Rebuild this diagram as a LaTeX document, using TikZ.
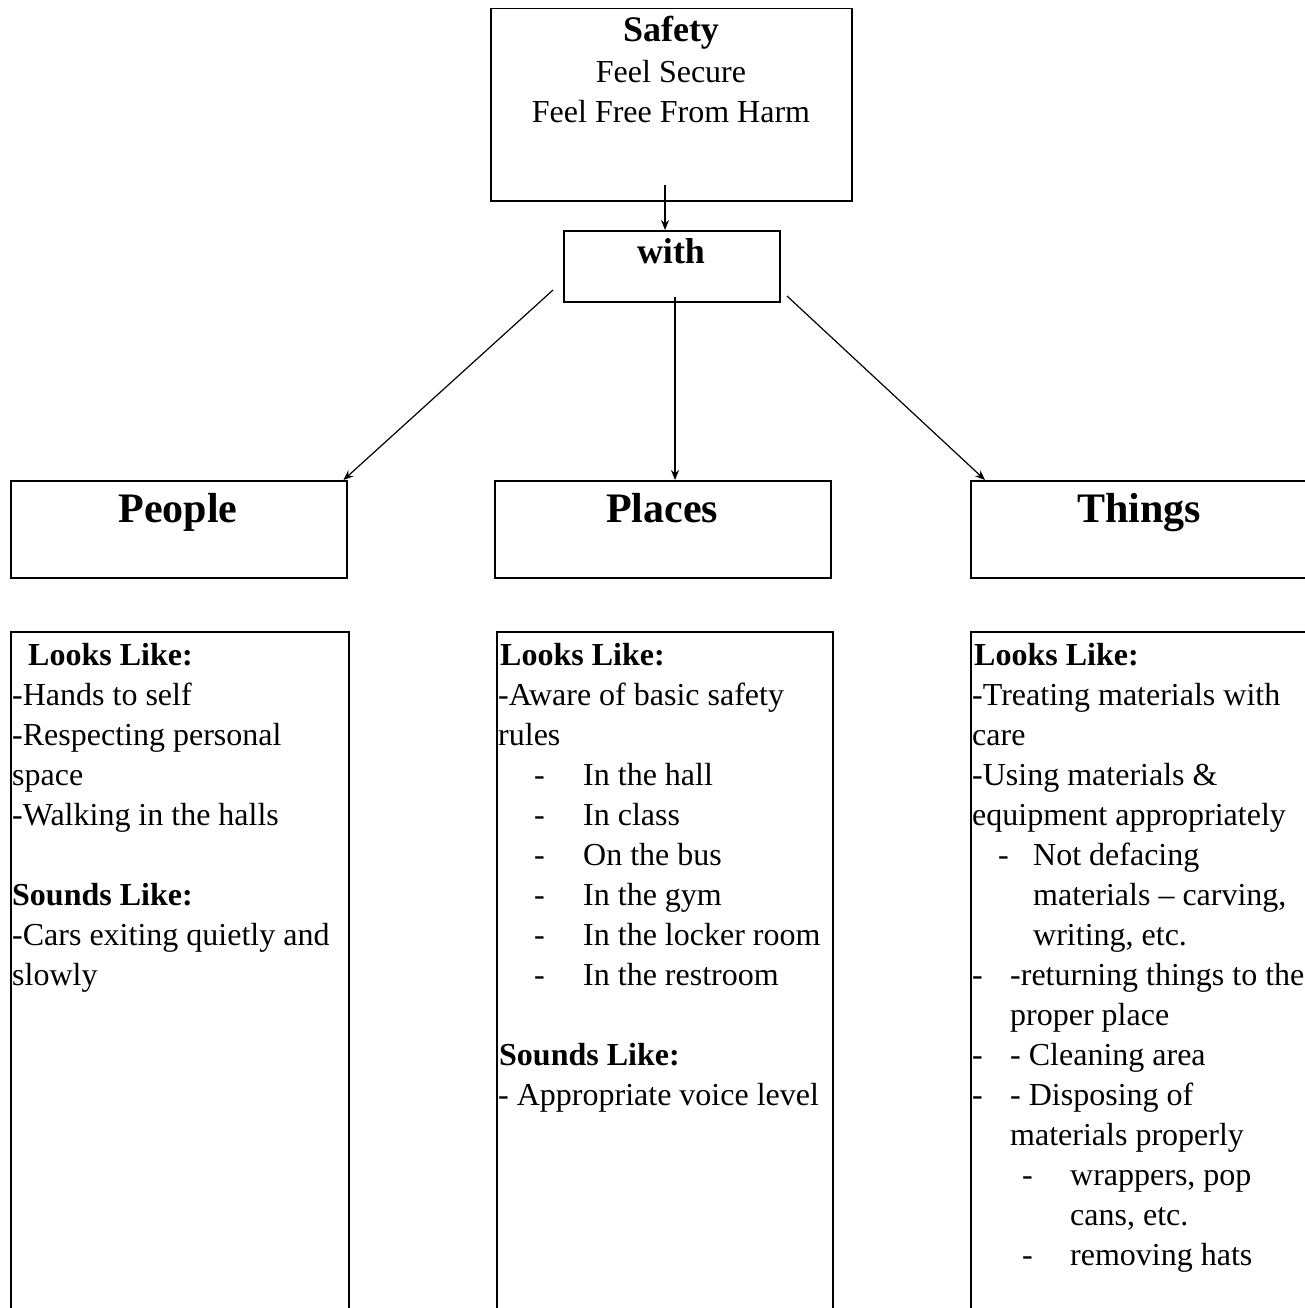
\documentclass[tikz,border=0pt]{standalone}
\usepackage{fontspec}
\setmainfont{Liberation Serif}
\usetikzlibrary{arrows.meta}
\begin{document}
\begin{tikzpicture}[x=1pt,y=-1pt,
 box/.style={draw, line width=1.5pt, inner sep=0pt, anchor=north west},
 arr/.style={line width=1.2pt, -{Stealth[length=10pt,width=8pt]}},
 txt/.style={anchor=base west, inner sep=0pt, font=\fontsize{32}{38}\selectfont},
 btxt/.style={anchor=base west, inner sep=0pt, font=\fontsize{32}{38}\selectfont\bfseries},
 ctr/.style={anchor=base, inner sep=0pt, font=\fontsize{32}{38}\selectfont},
 bctr/.style={anchor=base, inner sep=0pt, font=\fontsize{36}{40}\selectfont\bfseries},
 hdr/.style={anchor=base, inner sep=0pt, font=\fontsize{42}{48}\selectfont\bfseries}]
\useasboundingbox (0,0) rectangle (1305,1308);
\clip (0,0) rectangle (1305,1308);

% boxes
\node[box, minimum width=361pt, minimum height=192pt] (safety) at (490,8) {};
\node[box, minimum width=216pt, minimum height=71pt] (with) at (563,230) {};
\node[box, minimum width=336pt, minimum height=97pt] (people) at (10,480) {};
\node[box, minimum width=336pt, minimum height=97pt] (places) at (494,480) {};
\node[box, minimum width=380pt, minimum height=97pt] (things) at (970,480) {};
\node[box, minimum width=338pt, minimum height=720pt] (pbox) at (10,631) {};
\node[box, minimum width=336pt, minimum height=720pt] (plbox) at (496,631) {};
\node[box, minimum width=380pt, minimum height=720pt] (tbox) at (970,631) {};

% top texts
\node[bctr] (tsafety) at (671,42) {Safety};
\node[ctr] (tsecure) at (671,83) {Feel Secure};
\node[ctr] (tfree) at (671,123) {Feel Free From Harm};
\node[bctr] (twith) at (671,263) {with};
\node[hdr] (tpeople) at (178,522) {People};
\node[hdr] (tplaces) at (662,522) {Places};
\node[hdr] (tthings) at (1139,522) {Things};

% connectors
\coordinate (s0) at (665,185);
\draw[arr] (s0) -- (s0 |- with.north);
\coordinate (w0) at (675,297);
\draw[arr] (w0) -- (w0 |- places.north);
\coordinate (wl) at (553,290);
\draw[arr] (wl) -- ([xshift=-4pt]people.north east);
\coordinate (wr) at (787,296);
\draw[arr] (wr) -- ([xshift=15pt]things.north west);

% People list
\node[btxt] (p1) at (28,665) {Looks Like:};
\node[txt] (p2) at (12,705) {-Hands to self};
\node[txt] (p3) at (12,745) {-Respecting personal};
\node[txt] (p4) at (12,785) {space};
\node[txt] (p5) at (12,825) {-Walking in the halls};
\node[btxt] (p6) at (12,905) {Sounds Like:};
\node[txt] (p7) at (12,945) {-Cars exiting quietly and};
\node[txt] (p8) at (12,985) {slowly};

% Places list
\node[btxt] (l1) at (500,665) {Looks Like:};
\node[txt] (l2) at (498,705) {-Aware of basic safety};
\node[txt] (l3) at (498,745) {rules};
\node[txt] (l4d) at (534,785) {-};
\node[txt] (l4) at (583,785) {In the hall};
\node[txt] (l5d) at (534,825) {-};
\node[txt] (l5) at (583,825) {In class};
\node[txt] (l6d) at (534,865) {-};
\node[txt] (l6) at (583,865) {On the bus};
\node[txt] (l7d) at (534,905) {-};
\node[txt] (l7) at (583,905) {In the gym};
\node[txt] (l8d) at (534,945) {-};
\node[txt] (l8) at (583,945) {In the locker room};
\node[txt] (l9d) at (534,985) {-};
\node[txt] (l9) at (583,985) {In the restroom};
\node[btxt] (l10) at (499,1065) {Sounds Like:};
\node[txt] (l11) at (498,1105) {- Appropriate voice level};

% Things list
\node[btxt] (t1) at (974,665) {Looks Like:};
\node[txt] (t2) at (972,705) {-Treating materials with};
\node[txt] (t3) at (972,745) {care};
\node[txt] (t4) at (972,785) {-Using materials \&};
\node[txt] (t5) at (972,825) {equipment appropriately};
\node[txt] (t6d) at (998,865) {-};
\node[txt] (t6) at (1033,865) {Not defacing};
\node[txt] (t7) at (1033,905) {materials – carving,};
\node[txt] (t8) at (1033,945) {writing, etc.};
\node[txt] (t9d) at (972,985) {-};
\node[txt] (t9) at (1010,985) {-returning things to the};
\node[txt] (t10) at (1010,1025) {proper place};
\node[txt] (t11d) at (972,1065) {-};
\node[txt] (t11) at (1010,1065) {- Cleaning area};
\node[txt] (t12d) at (972,1105) {-};
\node[txt] (t12) at (1010,1105) {- Disposing of};
\node[txt] (t13) at (1010,1145) {materials properly};
\node[txt] (t14d) at (1022,1185) {-};
\node[txt] (t14) at (1070,1185) {wrappers, pop};
\node[txt] (t15) at (1070,1225) {cans, etc.};
\node[txt] (t16d) at (1022,1265) {-};
\node[txt] (t16) at (1070,1265) {removing hats};
\end{tikzpicture}
\end{document}
